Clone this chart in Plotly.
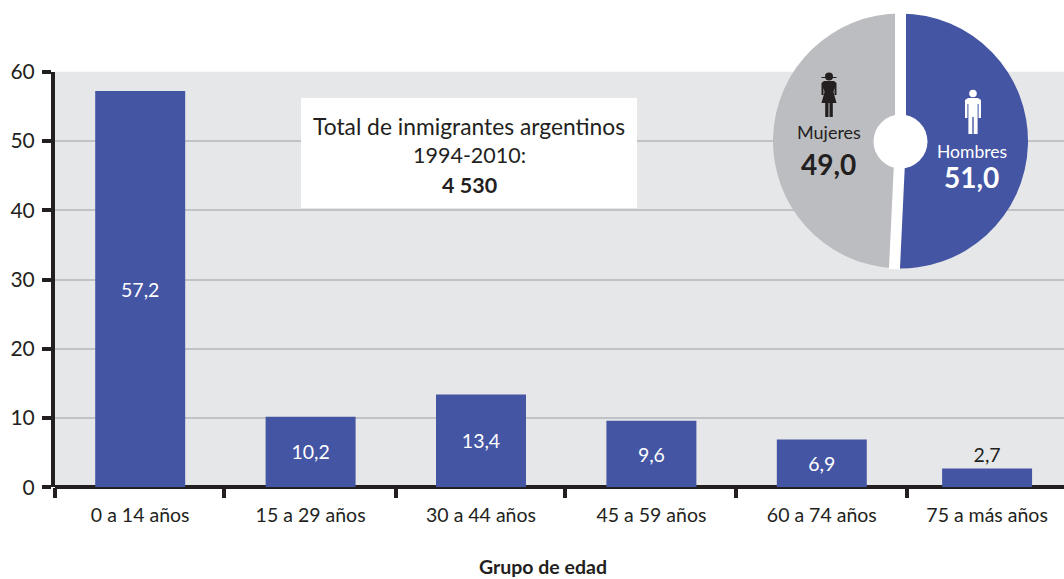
import math
import plotly.graph_objects as go

W, H = 1064, 579
FONT = "Lato"
INK = "#231f20"
BLUE = "#4455a3"
GREY = "#bcbdc1"
BG = "#e6e7e9"
GRID = "#c1c2c5"

age_groups = ["0 a 14 años", "15 a 29 años", "30 a 44 años", "45 a 59 años", "60 a 74 años", "75 a más años"]
age_values = [57.2, 10.2, 13.4, 9.6, 6.9, 2.7]
age_labels = ["57,2", "10,2", "13,4", "9,6", "6,9", "2,7"]
age_positions = [0, 1, 2, 3, 4, 4.97]
group_edges = [-0.5, 0.493, 1.502, 2.494, 3.498, 4.502]
y_ticks = [0, 10, 20, 30, 40, 50, 60]
sex_labels = ["Hombres", "Mujeres"]
sex_values = [51.0, 49.0]
sex_text = ["51,0", "49,0"]

PX0, PX1 = 55, 1064
PY0, PY1 = 487.3, 71.7
CX, CY, R = 900.5, 141, 127.5


def fx(x):
    return x / W


def fy(y):
    return 1 - y / H


def px_rect(x0, y0, x1, y1, color):
    return dict(type="rect", xref="paper", yref="paper", x0=fx(x0), x1=fx(x1), y0=fy(y0), y1=fy(y1),
                fillcolor=color, line=dict(width=0), layer="above")


def px_circle(cx, cy, r, color):
    return dict(type="circle", xref="paper", yref="paper", x0=fx(cx - r), x1=fx(cx + r), y0=fy(cy - r), y1=fy(cy + r),
                fillcolor=color, line=dict(width=0), layer="above")


def poly(pts, color):
    d = "M " + " L ".join(f"{fx(x):.5f},{fy(y):.5f}" for x, y in pts) + " Z"
    return dict(type="path", xref="paper", yref="paper", fillcolor=color, line=dict(width=0), layer="above", path=d)


def sep(x0, y0, x1, y1):
    return dict(type="line", xref="paper", yref="paper", x0=fx(x0), x1=fx(x1), y0=fy(y0), y1=fy(y1),
                line=dict(color="white", width=11), layer="above")


fig = go.Figure()
fig.add_bar(
    x=age_positions, y=age_values, width=0.528, marker=dict(color=BLUE, line=dict(width=0)),
    text=age_labels, textposition=["inside"] * 5 + ["outside"], insidetextanchor="middle",
    constraintext="none", textangle=0, cliponaxis=False,
    insidetextfont=dict(family=FONT, size=19.5, color="white"),
    outsidetextfont=dict(family=FONT, size=19.5, color=INK),
    hoverinfo="x+y", showlegend=False,
)
fig.add_pie(
    labels=sex_labels, values=sex_values, sort=False, direction="clockwise", rotation=0,
    marker=dict(colors=[BLUE, GREY], line=dict(width=0)), textinfo="none", showlegend=False,
    domain=dict(x=[fx(CX - R), fx(CX + R)], y=[fy(CY + R), fy(CY - R)]),
)

split = math.radians(360 * sex_values[0] / sum(sex_values))
edge_x = CX + (R + 1) * math.sin(split) + 2
edge_y = CY - (R + 1) * math.cos(split)

man_c = 973
man = [(man_c - 5, 98), (man_c + 5, 98), (man_c + 8, 100), (man_c + 8, 118), (man_c + 5.6, 118), (man_c + 5.6, 104),
       (man_c + 4.6, 104), (man_c + 4.6, 134), (man_c + 0.7, 134), (man_c + 0.7, 117), (man_c - 0.7, 117), (man_c - 0.7, 134),
       (man_c - 4.6, 134), (man_c - 4.6, 104), (man_c - 5.6, 104), (man_c - 5.6, 118), (man_c - 8, 118), (man_c - 8, 100)]
wom_c = 829
woman = [(wom_c - 5, 81), (wom_c + 5, 81), (wom_c + 7.5, 83), (wom_c + 7.5, 95), (wom_c + 5.5, 95), (wom_c + 5.5, 88),
         (wom_c + 4.5, 92), (wom_c + 7.5, 103), (wom_c + 3.8, 103), (wom_c + 3.8, 117), (wom_c + 0.5, 117), (wom_c + 0.5, 103),
         (wom_c - 0.5, 103), (wom_c - 0.5, 117), (wom_c - 3.8, 117), (wom_c - 3.8, 103), (wom_c - 7.5, 103), (wom_c - 4.5, 92),
         (wom_c - 5.5, 88), (wom_c - 5.5, 95), (wom_c - 7.5, 95), (wom_c - 7.5, 83)]

shapes = [
    px_rect(301, 98, 637, 208, "white"),
    sep(CX, CY - R - 2, CX, CY),
    sep(CX, CY, edge_x, edge_y),
    px_circle(CX, CY + 0.5, 27, "white"),
    px_circle(man_c, 93.5, 3.8, "white"),
    poly(man, "white"),
    px_circle(wom_c, 76.5, 4, INK),
    px_rect(wom_c - 7.5, 77, wom_c + 7.5, 78, INK),
    poly(woman, INK),
]


def note(x, y, text, size, color, bold=False):
    return dict(xref="paper", yref="paper", x=fx(x), y=fy(y), text=f"<b>{text}</b>" if bold else text, showarrow=False,
                xanchor="center", yanchor="middle", font=dict(family=FONT, size=size, color=color))


annotations = [
    note(469, 126, "Total de inmigrantes argentinos", 22.8, INK),
    note(469, 155, "1994-2010:", 21.5, INK),
    note(469, 185, "4 530", 21.5, INK, True),
    note(829, 132, sex_labels[1], 18, INK),
    note(828.5, 164, sex_text[1], 28, INK, True),
    note(972, 152, sex_labels[0], 17.5, "white"),
    note(971, 177, sex_text[0], 28, "white", True),
    note(543, 566, "Grupo de edad", 19.5, INK, True),
]

fig.update_layout(
    width=W, height=H, autosize=False,
    margin=dict(l=0, r=0, t=0, b=0), paper_bgcolor="white", plot_bgcolor=BG,
    font=dict(family=FONT, color=INK), shapes=shapes, annotations=annotations, showlegend=False,
    xaxis=dict(
        domain=[fx(PX0), fx(PX1)], range=[-0.5, -0.5 + (PX1 - PX0) / 170.4],
        tickmode="array", tickvals=age_positions, ticktext=age_groups, ticks="outside", ticklen=10, tickwidth=1,
        tickcolor="rgba(0,0,0,0)",
        tickfont=dict(family=FONT, size=19.5, color=INK), showgrid=False, zeroline=False,
        showline=False, automargin=False,
        minor=dict(tickmode="array", tickvals=group_edges, ticks="outside", ticklen=10, tickwidth=4,
                   tickcolor=INK, showgrid=False),
    ),
    yaxis=dict(
        domain=[fy(PY0), fy(PY1)], range=[0, 60], tickmode="array", tickvals=y_ticks,
        ticks="outside", ticklen=9, tickwidth=4, tickcolor=INK, ticklabelstandoff=3,
        tickfont=dict(family=FONT, size=21, color=INK), showgrid=True, gridcolor=GRID, gridwidth=1.5,
        zeroline=True, zerolinecolor=INK, zerolinewidth=4,
        showline=True, linecolor=INK, linewidth=4, automargin=False,
    ),
)
fig.write_html("out.html", config=dict(displayModeBar=False),
               post_script="document.body.style.margin='0';document.body.style.overflow='hidden';")
